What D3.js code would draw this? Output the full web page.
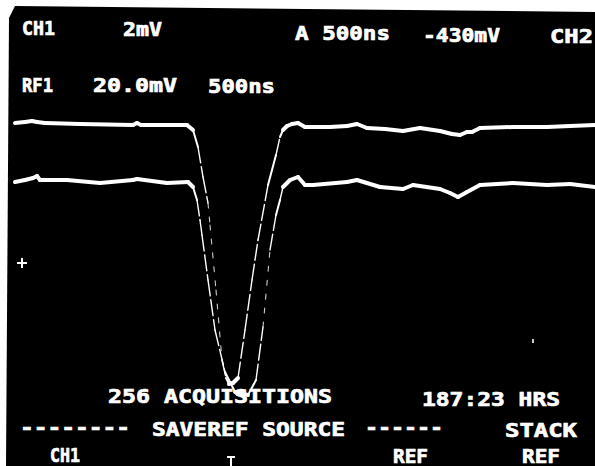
<!DOCTYPE html>
<html>
<head>
<meta charset="utf-8">
<script src="https://cdn.jsdelivr.net/npm/d3@7"></script>
<style>
  html, body { margin: 0; padding: 0; background: #fff; }
  svg { display: block; }
  text { font-family: "DejaVu Sans Mono", monospace; font-weight: bold; fill: #fff; stroke: #fff; stroke-width: 0.7px; }
</style>
</head>
<body>
<script>
// time in ns, amplitude in mV
const refTime = [100, 200, 270, 320, 400, 750, 1280, 1320, 1360, 1650, 1820, 1880, 1930, 1980, 2030, 2050, 2110, 2170, 2210, 2240, 2280, 2330, 2400, 2470, 2530, 2630, 2710, 2750, 2780, 2820, 2870, 2930, 3000, 3250, 3420, 3520, 3620, 3800, 3980, 4150, 4350, 4470, 4550, 4620, 4670, 4750, 5080, 5420, 5650, 5900];
const refValues = [58.5, 59, 59.5, 59, 58.5, 58, 57.5, 58.5, 57.5, 57.5, 57.5, 55, 46.5, 31.5, 18.5, 7.5, -25, -60, -69, -72, -71.5, -69, -45, -20, 0, 27.5, 42.5, 51.5, 55, 57, 58, 58.5, 56.5, 56.5, 57, 58, 56, 55.5, 54.5, 56, 54.5, 53, 52.5, 54, 54, 56, 56.5, 56.5, 57, 57.5];

const ch1Time = [100, 200, 280, 320, 350, 620, 950, 1280, 1320, 1620, 1830, 1880, 1920, 1950, 1970, 2030, 2100, 2200, 2300, 2430, 2510, 2580, 2650, 2710, 2750, 2780, 2850, 2930, 3000, 3080, 3420, 3520, 3750, 3980, 4080, 4350, 4450, 4530, 4620, 4750, 5080, 5420, 5650, 5900];
const ch1Values = [29, 30, 31, 32, 30, 30, 28.5, 30, 30.5, 28.5, 29, 26.5, 20, 10, 2.5, -20, -45, -66, -76, -77.5, -70, -43.5, -5, 12.5, 20, 26.5, 30, 31.5, 27.5, 27.5, 29, 30, 26.5, 25.5, 27.5, 25.5, 23.5, 21.5, 24, 27.5, 28.5, 27.5, 28, 26.5];

const topLabels = ['CH1', '2mV', 'A 500ns', '-430mV', 'CH2'];
const refLabels = ['RF1', '20.0mV', '500ns'];
const statusLabels = ['256 ACQUISITIONS', '187:23 HRS'];
const menuLabels = ['--------', 'SAVEREF SOURCE', '------', 'STACK'];
const softkeyLabels = ['CH1', 'REF', 'REF'];

const W = 595, H = 466;

const svg = d3.select('body').append('svg')
    .attr('width', W)
    .attr('height', H);

// screen face (photo has a white margin round it)
svg.append('path')
    .attr('d', 'M9,18 L15,6 L595,12 L595,466 L6,466 Z')
    .attr('fill', '#000');

const x = d3.scaleLinear().domain([0, 5900]).range([5, 595]);
const y = d3.scaleLinear().domain([100, -100]).range([40, 440]);

// fast edges are drawn faint, like the beam on the tube
function drawTrace(times, values) {
    const pts = times.map((t, i) => [x(t), y(values[i])]);
    const g = svg.append('g');
    for (let i = 0; i < pts.length - 1; i++) {
        const a = pts[i], b = pts[i + 1];
        const slope = Math.abs((b[1] - a[1]) / (b[0] - a[0]));
        let w = 4, dash = null, op = 1;
        if (slope > 8) { w = 1.1; dash = '5 9'; op = 0.8; }
        else if (slope > 4) { w = 1.4; dash = '16 4'; }
        else if (slope > 1.5) { w = 2; }
        g.append('path')
            .attr('d', d3.line()([a, b]))
            .attr('stroke', '#fff')
            .attr('stroke-width', w)
            .attr('stroke-linecap', 'round')
            .attr('stroke-dasharray', dash)
            .attr('opacity', op)
            .attr('fill', 'none');
    }
}

drawTrace(refTime, refValues);
drawTrace(ch1Time, ch1Values);

// text rows: [x start, width, baseline]
const topPos = [[22, 33, 35], [123, 39, 36], [295, 95, 40], [423, 77, 42], [550, 43, 43]];
const refPos = [[22, 31, 92], [93, 84, 92], [208, 67, 93]];
const statusPos = [[108, 224, 403], [422, 138, 406]];
const menuPos = [[20, 110, 434], [152, 193, 436], [365, 78, 434], [505, 72, 437]];
const softPos = [[50, 30, 462], [393, 35, 463], [522, 38, 463]];

function drawRow(labels, pos) {
    svg.append('g').selectAll('text')
        .data(labels)
        .enter()
        .append('text')
        .attr('x', (d, i) => pos[i][0])
        .attr('y', (d, i) => pos[i][2])
        .attr('textLength', (d, i) => pos[i][1])
        .attr('lengthAdjust', 'spacingAndGlyphs')
        .attr('font-size', '19px')
        .text(d => d);
}

drawRow(topLabels, topPos);
drawRow(refLabels, refPos);
drawRow(statusLabels, statusPos);
drawRow(menuLabels, menuPos);
drawRow(softkeyLabels, softPos);

// small cursor marks on the screen
const cross = svg.append('g').attr('transform', 'translate(22,263)').attr('fill', '#fff');
cross.append('rect').attr('x', -5).attr('y', -1).attr('width', 10).attr('height', 2);
cross.append('rect').attr('x', -1).attr('y', -5).attr('width', 2).attr('height', 10);

svg.append('rect').attr('x', 532).attr('y', 339).attr('width', 2).attr('height', 4).attr('fill', '#ccc');

const tmark = svg.append('g').attr('transform', 'translate(231,456)').attr('fill', '#fff');
tmark.append('rect').attr('x', -4).attr('y', 0).attr('width', 8).attr('height', 2);
tmark.append('rect').attr('x', -1).attr('y', 0).attr('width', 2).attr('height', 10);
</script>
</body>
</html>
